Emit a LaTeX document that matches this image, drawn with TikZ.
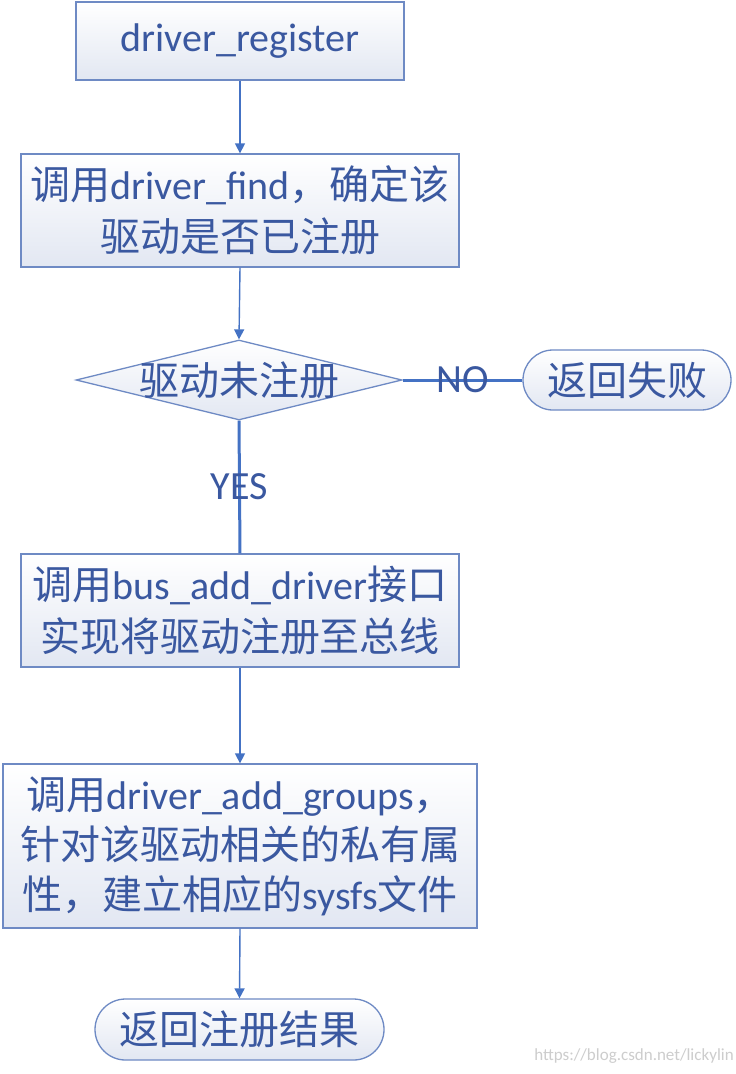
\documentclass[tikz,border=0pt]{standalone}
\usepackage{fontspec}
\setmainfont{Carlito}
\newfontfamily\cjk{Noto Sans CJK SC}
\usetikzlibrary{shapes.geometric,shapes.misc,arrows.meta}
\definecolor{txtblue}{RGB}{58,88,160}
\definecolor{edgeblue}{RGB}{110,138,196}
\definecolor{lineblue}{RGB}{68,114,196}
\definecolor{fillbot}{RGB}{226,231,242}
\definecolor{wmgrey}{RGB}{205,205,205}
\tikzset{
  base/.style={draw=edgeblue, line width=1.3pt, top color=white, bottom color=fillbot,
    text=txtblue, font=\fontsize{40}{52}\selectfont, align=center, inner sep=0pt},
  box/.style={base, rectangle},
  term/.style={base, rounded rectangle},
  dia/.style={base, diamond},
  lbl/.style={text=txtblue, font=\fontsize{40}{52}\selectfont, inner sep=0pt},
  flow/.style={draw=lineblue, line width=1.4pt, -{Triangle[length=10pt,width=10pt]}},
  thick line/.style={draw=lineblue, line width=3pt},
  watermark/.style={text=wmgrey, font=\fontsize{17}{20}\selectfont, inner sep=0pt, anchor=east}
}
\begin{document}
\begin{tikzpicture}[x=1pt,y=-1pt]
\useasboundingbox[fill=white] (0,0) rectangle (736,1074);
\node[box, minimum width=328pt, minimum height=78pt] (n1) at (240,41) {driver\_register};
\node[box, minimum width=438pt, minimum height=113pt] (n2) at (240,210.5)
  {{\cjk 调用}driver\_find{\cjk ，确定该}\\{\cjk 驱动是否已注册}};
\node[dia, minimum width=326pt, minimum height=80pt] (d) at (239,380) {};
\node[lbl] (dt) at (d) {\cjk 驱动未注册};
\node[term, minimum width=208pt, minimum height=60pt] (fail) at (627,380) {\cjk 返回失败};
\node[box, minimum width=438pt, minimum height=113pt] (n5) at (240,610.5)
  {{\cjk 调用}bus\_add\_driver{\cjk 接口}\\{\cjk 实现将驱动注册至总线}};
\node[box, minimum width=474pt, minimum height=164pt, font=\fontsize{40}{50}\selectfont] (n6) at (240,846)
  {{\cjk 调用}driver\_add\_groups{\cjk ，}\\{\cjk 针对该驱动相关的私有属}\\{\cjk 性，建立相应的}sysfs{\cjk 文件}};
\node[term, minimum width=289pt, minimum height=61pt] (end) at (239.5,1029.5) {\cjk 返回注册结果};
\node[watermark] (wm) at (734,1056) {https://blog.csdn.net/lickylin};

\draw[flow] (n1.south) -- (n2.north);
\draw[flow] (n2.south) -- (d.north);
\draw[thick line] (d.east) -- node[lbl] {NO} (fail.west);
\draw[thick line] (d.south) -- node[lbl] {YES} (n5.north);
\draw[flow] (n5.south) -- (n6.north);
\draw[flow] (n6.south) -- (end.north);
\end{tikzpicture}
\end{document}
